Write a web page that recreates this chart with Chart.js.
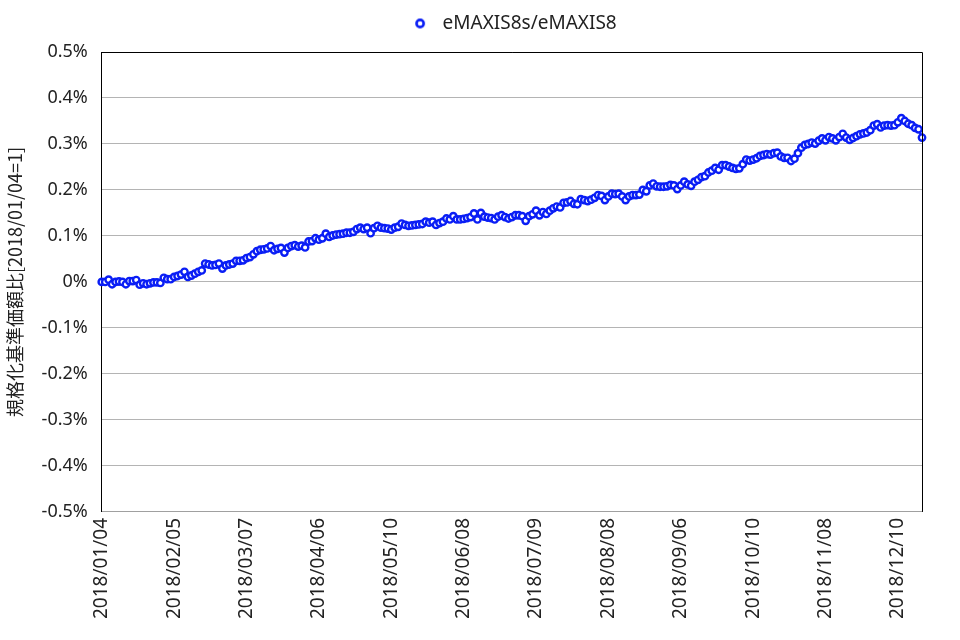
<!DOCTYPE html>
<html>
<head>
  <meta charset="utf-8">
  <title>eMAXIS8s/eMAXIS8</title>
  <style>
    html, body { margin: 0; padding: 0; background: #ffffff; }
    #chart { display: block; }
  </style>
</head>
<body>
  <canvas id="chart" width="960" height="640"></canvas>

  <script src="https://cdn.jsdelivr.net/npm/chart.js"></script>
  <script>
    // 系列名
    const seriesName = 'eMAXIS8s/eMAXIS8';
    const yTitle = '規格化基準価額比[2018/01/04=1]';

    // 目盛りに出す日付（21営業日ごと）
    const tickLabels = ['2018/01/04', '2018/02/05', '2018/03/07', '2018/04/06', '2018/05/10', '2018/06/08',
                        '2018/07/09', '2018/08/08', '2018/09/06', '2018/10/10', '2018/11/08', '2018/12/10'];
    const tickEvery = 21;

    // 基準価額比（%）、営業日ごと
    const ratio = [
      0.000, 0.000, 0.005, -0.005, 0.000, 0.001, 0.000, -0.005, 0.002, 0.002,
      0.004, -0.006, -0.003, -0.005, -0.003, -0.001, -0.001, -0.002, 0.009, 0.006,
      0.006, 0.011, 0.013, 0.016, 0.022, 0.011, 0.014, 0.018, 0.022, 0.025,
      0.040, 0.038, 0.036, 0.037, 0.040, 0.029, 0.036, 0.038, 0.040, 0.046,
      0.046, 0.047, 0.052, 0.054, 0.060, 0.067, 0.070, 0.071, 0.073, 0.078,
      0.069, 0.072, 0.074, 0.064, 0.074, 0.078, 0.080, 0.077, 0.079, 0.075,
      0.088, 0.089, 0.095, 0.092, 0.095, 0.105, 0.098, 0.101, 0.103, 0.104,
      0.105, 0.107, 0.107, 0.109, 0.115, 0.118, 0.115, 0.118, 0.106, 0.117,
      0.122, 0.118, 0.117, 0.116, 0.114, 0.118, 0.120, 0.127, 0.124, 0.122,
      0.123, 0.124, 0.125, 0.126, 0.131, 0.129, 0.131, 0.124, 0.128, 0.131,
      0.138, 0.136, 0.143, 0.136, 0.136, 0.137, 0.139, 0.141, 0.149, 0.136,
      0.150, 0.142, 0.140, 0.139, 0.136, 0.142, 0.145, 0.141, 0.138, 0.141,
      0.145, 0.145, 0.143, 0.133, 0.143, 0.147, 0.155, 0.145, 0.152, 0.148,
      0.155, 0.160, 0.164, 0.162, 0.172, 0.173, 0.176, 0.170, 0.169, 0.180,
      0.178, 0.176, 0.179, 0.183, 0.189, 0.187, 0.178, 0.186, 0.192, 0.191,
      0.192, 0.186, 0.178, 0.186, 0.189, 0.189, 0.190, 0.200, 0.197, 0.210,
      0.214, 0.208, 0.207, 0.207, 0.208, 0.211, 0.210, 0.202, 0.210, 0.218,
      0.212, 0.209, 0.218, 0.222, 0.228, 0.230, 0.238, 0.242, 0.248, 0.244,
      0.254, 0.254, 0.251, 0.248, 0.246, 0.247, 0.256, 0.266, 0.264, 0.266,
      0.269, 0.274, 0.276, 0.278, 0.277, 0.280, 0.281, 0.273, 0.270, 0.270,
      0.263, 0.268, 0.280, 0.292, 0.298, 0.300, 0.303, 0.301, 0.307, 0.312,
      0.308, 0.315, 0.312, 0.308, 0.315, 0.322, 0.314, 0.309, 0.313, 0.317,
      0.321, 0.323, 0.325, 0.330, 0.340, 0.343, 0.336, 0.340, 0.341, 0.340,
      0.341, 0.347, 0.356, 0.350, 0.344, 0.341, 0.335, 0.332, 0.314
    ];

    // 軸の範囲
    const yMin = -0.5;
    const yMax = 0.5;
    const yStep = 0.1;

    // 目盛り以外の日は空ラベル
    const labels = ratio.map((v, i) => (i % tickEvery === 0 ? (tickLabels[i / tickEvery] || '') : ''));

    const blue = '#0a1ef5';
    const latin = "'Noto Sans', 'DejaVu Sans', sans-serif";

    // 凡例のマーカー（白抜きの丸）
    const legendMark = document.createElement('canvas');
    legendMark.width = 12;
    legendMark.height = 12;
    (function () {
      const c = legendMark.getContext('2d');
      c.beginPath();
      c.arc(6, 6, 3.6, 0, Math.PI * 2);
      c.fillStyle = '#ffffff';
      c.fill();
      c.lineWidth = 2.6;
      c.strokeStyle = blue;
      c.stroke();
    })();

    // 凡例の下に余白を足す
    const legendGap = {
      id: 'legendGap',
      beforeInit(chart) {
        const fit = chart.legend.fit;
        chart.legend.fit = function () {
          fit.bind(chart.legend)();
          this.height += 9;
        };
      }
    };

    // 上と右の枠線
    const frame = {
      id: 'frame',
      afterDraw(chart) {
        const { ctx, chartArea: a } = chart;
        ctx.save();
        ctx.strokeStyle = '#000000';
        ctx.lineWidth = 1;
        ctx.beginPath();
        ctx.moveTo(a.left, a.top + 0.5);
        ctx.lineTo(a.right + 0.5, a.top + 0.5);
        ctx.lineTo(a.right + 0.5, a.bottom);
        ctx.stroke();
        ctx.restore();
      }
    };

    new Chart(document.getElementById('chart'), {
      type: 'line',
      data: {
        labels: labels,
        datasets: [{
          label: seriesName,
          data: ratio,
          borderColor: blue,
          borderWidth: 2,
          backgroundColor: '#ffffff',
          pointRadius: 3.2,
          pointBorderWidth: 2.4,
          pointBackgroundColor: '#ffffff',
          pointBorderColor: blue,
          pointStyle: 'circle',
          tension: 0,
          fill: false
        }]
      },
      options: {
        responsive: false,
        animation: false,
        layout: { padding: { left: 4, right: 38, top: 4, bottom: 15 } },
        plugins: {
          legend: {
            position: 'top',
            fullSize: false,
            labels: {
              usePointStyle: true,
              pointStyle: legendMark,
              pointStyleWidth: 26,
              boxHeight: 8,
              padding: 10,
              color: '#222222',
              font: { family: latin, size: 19 }
            }
          },
          tooltip: { enabled: false }
        },
        scales: {
          x: {
            type: 'category',
            grid: { display: false, drawTicks: false },
            border: { color: '#a0a0a0', width: 1 },
            ticks: {
              autoSkip: false,
              minRotation: 90,
              maxRotation: 90,
              padding: 6,
              color: '#222222',
              font: { family: latin, size: 19 }
            }
          },
          y: {
            min: yMin,
            max: yMax,
            grid: { color: '#b4b4b4', lineWidth: 1, drawTicks: false },
            border: { color: '#000000', width: 1 },
            title: {
              display: true,
              text: yTitle,
              color: '#222222',
              padding: { top: 0, bottom: 2 },
              font: { family: "'Noto Sans CJK JP', sans-serif", size: 18 }
            },
            ticks: {
              stepSize: yStep,
              padding: 14,
              color: '#222222',
              font: { family: latin, size: 18 },
              callback: function (value) {
                const v = Math.round(value * 10) / 10;
                return v === 0 ? '0%' : v.toFixed(1) + '%';
              }
            }
          }
        }
      },
      plugins: [legendGap, frame]
    });
  </script>
</body>
</html>
